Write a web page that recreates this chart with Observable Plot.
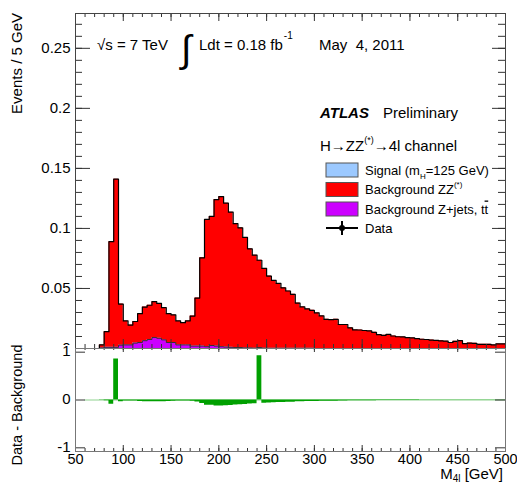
<!DOCTYPE html>
<html><head><meta charset="utf-8">
<script src="https://cdn.jsdelivr.net/npm/d3@7"></script>
<script src="https://cdn.jsdelivr.net/npm/@observablehq/plot@0.6"></script>
<style>
html,body{margin:0;padding:0;background:#fff;}
#chart{position:relative;width:517px;height:485px;overflow:hidden;}
#chart svg{position:absolute;left:0;overflow:visible;}
#mask{position:absolute;left:28px;top:345px;width:45px;height:14px;background:#fff;}
</style></head><body><div id="chart"></div>
<script>
// ---- data (5 GeV bins, lower edges 60..495) ----
const binLow = d3.range(60, 500, 5);
// Background ZZ(*) (stacked on top of Z+jets, tt)
const zz = [0,0,0,0.0025,0.013,0.088,0.140,0.0342,0.020,0.0165,
  0.018,0.024,0.028,0.0285,0.0298,0.029,0.0268,0.024,0.023,0.020,
  0.0185,0.020,0.025,0.040,0.0735,0.106,0.1075,0.122,0.125,0.1198,
  0.1125,0.1032,0.0997,0.092,0.0825,0.0774,0.0727,0.0664,0.0601,0.0565,
  0.054,0.0503,0.0477,0.0449,0.0376,0.0344,0.0328,0.0316,0.0296,0.0271,
  0.0243,0.024,0.0243,0.020,0.020,0.0172,0.0155,0.0154,0.015,0.0146,
  0.0135,0.0115,0.011,0.0117,0.0104,0.0098,0.0096,0.009,0.0088,0.0082,
  0.0077,0.0075,0.007,0.0067,0.0064,0.0061,0.005,0.006,0.0065,0.004,
  0.0045,0.0043,0.0035,0.0035,0.0035,0.003,0.0038,0.0038];
// Background Z+jets, tt
const zjets = [0,0,0,0.0005,0.001,0.001,0.001,0.0028,0.003,0.003,
  0.0045,0.005,0.0065,0.0075,0.0092,0.0085,0.0072,0.005,0.005,0.003,
  0.003,0.003,0.002,0.002,0.002,0.0015,0.0025,0.002,0.0015,0.0012,
  0.001,0.0008,0.0008,0.0005,0.0005,0.0003,0.0008,0.0003,0.0002,0.0002,
  0.0002,0.0002,0.0002,0.0002,0.0002,0.0002,0.0002,0.0002,0,0,
  0,0,0,0,0,0,0,0,0,0, 0,0,0,0,0,0,0,0,0,0, 0,0,0,0,0,0,0,0,0,0, 0,0,0,0,0,0,0,0];
// Observed events per bin
const dataCounts = [0,0,0,0,0,0,1,0,0,0, 0,0,0,0,0,0,0,0,0,0,
  0,0,0,0,0,0,0,0,0,0, 0,0,0,0,0,0,1,0,0,0, 0,0,0,0,0,0,0,0,0,0,
  0,0,0,0,0,0,0,0,0,0, 0,0,0,0,0,0,0,0,0,0, 0,0,0,0,0,0,0,0,0,0, 0,0,0,0,0,0,0,0];
const yTicksTop = [0, 0.05, 0.1, 0.15, 0.2, 0.25];
const yTicksBottom = [-1, 0, 1];
const xTicks = [50, 100, 150, 200, 250, 300, 350, 400, 450, 500];
const xMinorTicks = d3.range(50, 501, 10);
const yMinorTop = d3.range(0, 0.275, 0.01);
const legendLabels = ["Signal (m", "Background ZZ", "Background Z+jets, t", "Data"];

// ---- build tables ----
const rows = binLow.map((lo, i) => ({lo, hi: lo + 5, zz: zz[i], zj: zjets[i],
  tot: zz[i] + zjets[i], n: dataCounts[i], diff: dataCounts[i] - (zz[i] + zjets[i])}));
const lastRow = rows[rows.length - 1];
const steps = rows.concat([{...lastRow, lo: 500}]);

const FONT = '"Liberation Sans", Arial, Helvetica, sans-serif';
const RED = "#ff0000", MAG = "#cc00ff", GREEN = "#00a000", BLUE = "#9cc9ff";
const W = 517, ML = 75, MR = 12, PW = W - ML - MR;
const TOP_H = 348, TOP_MT = 13, PH = TOP_H - TOP_MT;
const BOT_H = 137, BOT_MB = 34, PH2 = BOT_H - BOT_MB;
const TK = "#333";

const topPlot = Plot.plot({
  width: W, height: TOP_H, marginLeft: ML, marginRight: MR, marginTop: TOP_MT, marginBottom: 0,
  style: {fontFamily: FONT, fontSize: "15px", background: "transparent", color: "#000"},
  x: {domain: [50, 500], axis: null},
  y: {domain: [0, 0.279], axis: null},
  marks: [
    Plot.areaY(steps, {x: "lo", y1: 0, y2: "zj", curve: "step-after", fill: MAG}),
    Plot.areaY(steps, {x: "lo", y1: "zj", y2: "tot", curve: "step-after", fill: RED}),
    Plot.line(steps, {x: "lo", y: "zj", curve: "step-after", stroke: "#333", strokeWidth: 1}),
    Plot.line(steps, {x: "lo", y: "tot", curve: "step-after", stroke: "#000", strokeWidth: 1.2}),
    Plot.ruleY(rows, {y: "n", x1: "lo", x2: "hi", stroke: "#000", clip: true}),
    Plot.tickY(yTicksTop, {y: d => d, stroke: TK, insetRight: PW - 15}),
    Plot.tickY(yMinorTop, {y: d => d, stroke: TK, insetRight: PW - 7}),
    Plot.tickY(yTicksTop, {y: d => d, stroke: TK, insetLeft: PW - 13}),
    Plot.tickY(yMinorTop, {y: d => d, stroke: TK, insetLeft: PW - 7}),
    Plot.tickX(xTicks, {x: d => d, stroke: TK, insetTop: PH - 9}),
    Plot.tickX(xMinorTicks, {x: d => d, stroke: TK, insetTop: PH - 4}),
    Plot.tickX(xTicks, {x: d => d, stroke: TK, insetBottom: PH - 8}),
    Plot.tickX(xMinorTicks, {x: d => d, stroke: TK, insetBottom: PH - 4}),
    Plot.frame({stroke: "#444"}),
    Plot.axisY(yTicksTop, {anchor: "left", tickSize: 0, tickPadding: 5, label: null, tickFormat: d => String(d)})
  ]
});
topPlot.style.top = "0px";

const bottomPlot = Plot.plot({
  width: W, height: BOT_H, marginLeft: ML, marginRight: MR, marginTop: 0, marginBottom: BOT_MB,
  style: {fontFamily: FONT, fontSize: "15px", background: "transparent", color: "#000"},
  x: {domain: [50, 500], axis: null},
  y: {domain: [-1.077, 1.077], axis: null},
  marks: [
    Plot.ruleY([0], {x1: 60, x2: 500, stroke: "#8fd28f", strokeWidth: 1}),
    Plot.areaY(steps, {x: "lo", y1: 0, y2: "diff", curve: "step-after", fill: GREEN}),
    Plot.tickY(yTicksBottom, {y: d => d, stroke: TK, insetRight: PW - 10}),
    Plot.tickY(yTicksBottom, {y: d => d, stroke: TK, insetLeft: PW - 10}),
    Plot.tickX(xTicks, {x: d => d, stroke: TK, insetTop: PH2 - 6}),
    Plot.tickX(xMinorTicks, {x: d => d, stroke: TK, insetTop: PH2 - 3}),
    Plot.tickX(xTicks, {x: d => d, stroke: TK, insetBottom: PH2 - 4}),
    Plot.tickX(xMinorTicks, {x: d => d, stroke: TK, insetBottom: PH2 - 2}),
    Plot.frame({stroke: "#777"}),
    Plot.axisY(yTicksBottom, {anchor: "left", tickSize: 0, tickPadding: 5, label: null, dy: -1, tickFormat: d => String(d)}),
    Plot.axisX(xTicks, {anchor: "bottom", tickSize: 0, tickPadding: 2, label: null, fontSize: 14.5, tickFormat: d => String(d)})
  ]
});
bottomPlot.style.top = TOP_H + "px";

const chart = document.getElementById("chart");
chart.appendChild(topPlot);
const mask = document.createElement("div"); mask.id = "mask"; chart.appendChild(mask);
chart.appendChild(bottomPlot);

// ---- annotations (top) ----
const gt = d3.select(topPlot).append("g").attr("font-family", FONT).attr("fill", "#000")
  .attr("text-anchor", "start");
gt.append("text").attr("transform", "translate(21.5,13) rotate(-90)").attr("text-anchor", "end")
  .attr("font-size", 15).text("Events / 5 GeV");
gt.append("text").attr("x", 97).attr("y", 50).attr("font-size", 15).text("\u221As = 7 TeV");
gt.append("text").attr("x", 181).attr("y", 62).attr("font-size", 38).text("\u222B");
const lum = gt.append("text").attr("x", 199).attr("y", 50).attr("font-size", 15);
lum.append("tspan").text("Ldt = 0.18 fb");
lum.append("tspan").attr("font-size", 10).attr("dy", -11).attr("dx", 1).text("-1");
gt.append("text").attr("x", 319).attr("y", 50).attr("font-size", 15).text("May\u00A0 4, 2011");
gt.append("text").attr("x", 320).attr("y", 118).attr("font-size", 15).attr("font-weight", "bold")
  .attr("font-style", "italic").text("ATLAS");
gt.append("text").attr("x", 383).attr("y", 118).attr("font-size", 15).text("Preliminary");
const ch = gt.append("text").attr("x", 320).attr("y", 151).attr("font-size", 15);
ch.append("tspan").text("H\u2192ZZ");
ch.append("tspan").attr("font-size", 9).attr("dy", -8).text("(*)");
ch.append("tspan").attr("dy", 8).text("\u21924l channel");

// legend
const lg = gt.append("g").attr("font-size", 13);
const boxes = [[170, BLUE], [189.5, RED], [209, MAG]];
boxes.forEach(([cy, c]) => lg.append("rect").attr("x", 326).attr("y", cy - 7).attr("width", 32)
  .attr("height", 14).attr("fill", c).attr("stroke", "#555"));
const t1 = lg.append("text").attr("x", 365).attr("y", 174.5);
t1.append("tspan").text(legendLabels[0]);
t1.append("tspan").attr("font-size", 8).attr("dy", 4).text("H");
t1.append("tspan").attr("dy", -4).text("=125 GeV)");
const t2 = lg.append("text").attr("x", 365).attr("y", 194);
t2.append("tspan").text(legendLabels[1]);
t2.append("tspan").attr("font-size", 8).attr("dy", -7).text("(*)");
const t3 = lg.append("text").attr("x", 365).attr("y", 213.5);
t3.append("tspan").text(legendLabels[2]);
t3.append("tspan").attr("text-decoration", "overline").text("t");
lg.append("line").attr("x1", 326).attr("x2", 358).attr("y1", 228).attr("y2", 228).attr("stroke", "#000").attr("stroke-width", 2);
lg.append("line").attr("x1", 342).attr("x2", 342).attr("y1", 221).attr("y2", 235).attr("stroke", "#000").attr("stroke-width", 2);
lg.append("circle").attr("cx", 342).attr("cy", 228).attr("r", 3).attr("fill", "#000");
lg.append("text").attr("x", 365).attr("y", 232.5).text(legendLabels[3]);

// ---- annotations (bottom) ----
const gb = d3.select(bottomPlot).append("g").attr("font-family", FONT).attr("fill", "#000")
  .attr("font-size", 15).attr("text-anchor", "start");
gb.append("text").attr("transform", "translate(21.5,57) rotate(-90)").attr("text-anchor", "middle")
  .attr("font-size", 14.5).text("Data - Background");
const xt = gb.append("text").attr("x", 503).attr("y", 131).attr("text-anchor", "end");
xt.append("tspan").text("M");
xt.append("tspan").attr("font-size", 10).attr("dy", 3).text("4l");
xt.append("tspan").attr("dy", -3).text(" [GeV]");
</script></body></html>
